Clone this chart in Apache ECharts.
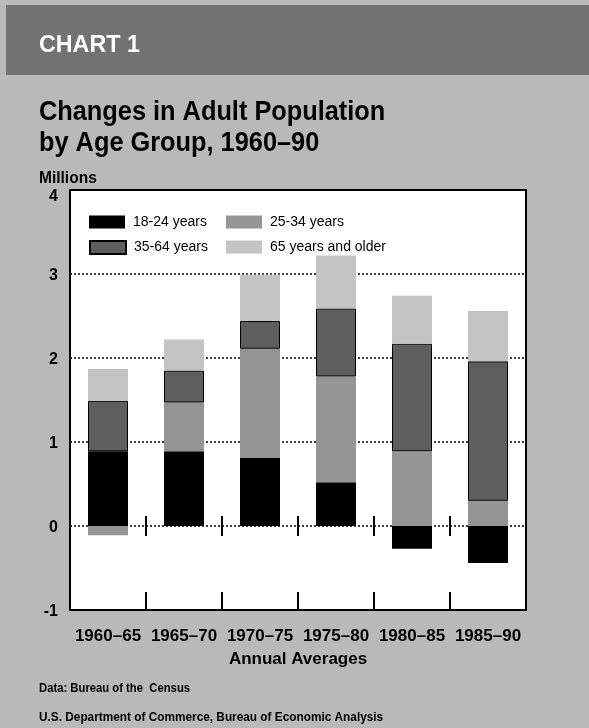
<!DOCTYPE html>
<html>
<head>
<meta charset="utf-8">
<script src="https://cdn.jsdelivr.net/npm/echarts@6/dist/echarts.min.js"></script>
<style>
html,body{margin:0;padding:0;background:#b9b9b9;}
#c{width:589px;height:728px;}
</style>
</head>
<body>
<div id="c"></div>
<script>
// ---- data ----
var categories = ['1960–65', '1965–70', '1970–75', '1975–80', '1980–85', '1985–90'];
var age18to24 = [0.89, 0.89, 0.81, 0.52, -0.27, -0.44];
var age25to34 = [-0.11, 0.58, 1.30, 1.26, 0.89, 0.30];
var age35to64 = [0.60, 0.38, 0.33, 0.81, 1.28, 1.66];
var age65plus = [0.38, 0.37, 0.55, 0.63, 0.57, 0.60];
var seriesNames = ['18-24 years', '25-34 years', '35-64 years', '65 years and older'];
var yTicks = [-1, 0, 1, 2, 3, 4];

var FONT = "'Liberation Sans', Arial, Helvetica, sans-serif";
var chart = echarts.init(document.getElementById('c'), null, {renderer: 'canvas'});

function legendAt(name, left, top) {
  return {
    data: [{name: name, icon: 'rect'}], left: left, top: top, orient: 'horizontal', padding: 0,
    itemWidth: 36, itemHeight: 13, itemGap: 0, selectedMode: false,
    textStyle: {fontFamily: FONT, fontSize: 14, color: '#000', padding: [0, 0, 0, 3]}
  };
}

function txt(x, y, text, size, weight, fill, sx) {
  return {
    type: 'text', x: x, y: y, scaleX: sx || 1, silent: true,
    style: {text: text, x: 0, y: 0, fontFamily: FONT, fontSize: size, fontWeight: weight,
            fill: fill, align: 'left', verticalAlign: 'middle'}
  };
}

var option = {
  animation: false,
  backgroundColor: '#b9b9b9',
  graphic: [
    {type: 'rect', shape: {x: 6, y: 5, width: 583, height: 70}, style: {fill: '#727272'}, silent: true, z: -1},
    txt(39, 45, 'CHART 1', 24, 'bold', '#fff', 0.97),
    txt(39, 112, 'Changes in Adult Population', 28, 'bold', '#000', 0.905),
    txt(39, 143, 'by Age Group, 1960–90', 28, 'bold', '#000', 0.905),
    txt(39, 179, 'Millions', 16, 'bold', '#000', 0.97),
    txt(39, 689, 'Data: Bureau of the  Census', 12, 'bold', '#000', 0.94),
    txt(39, 718, 'U.S. Department of Commerce, Bureau of Economic Analysis', 12, 'bold', '#000', 0.985)
  ],
  legend: [
    legendAt(seriesNames[0], 89, 215),
    legendAt(seriesNames[1], 226, 215),
    legendAt(seriesNames[2], 89, 240),
    legendAt(seriesNames[3], 226, 240)
  ],
  grid: {
    left: 70, right: 63, top: 190, bottom: 118,
    show: true, backgroundColor: '#ffffff', borderColor: '#000', borderWidth: 2
  },
  xAxis: [
    {
      type: 'category', data: categories, position: 'bottom',
      axisLine: {show: false, onZero: false},
      axisTick: {show: true, interval: 0, inside: true, length: 18, alignWithLabel: false, lineStyle: {color: '#000', width: 2}},
      axisLabel: {interval: 0, fontFamily: FONT, fontSize: 17, fontWeight: 'bold', color: '#000', margin: 18},
      name: 'Annual Averages', nameLocation: 'middle', nameGap: 41,
      nameTextStyle: {fontFamily: FONT, fontSize: 17, fontWeight: 'bold', color: '#000'}
    },
    {
      type: 'category', data: categories, position: 'bottom',
      axisLine: {show: false, onZero: true, onZeroAxisIndex: 0},
      axisTick: {show: true, interval: 0, inside: true, length: 10, alignWithLabel: false, lineStyle: {color: '#000', width: 2}},
      axisLabel: {show: false}
    },
    {
      type: 'category', data: categories, position: 'bottom',
      axisLine: {show: false, onZero: true, onZeroAxisIndex: 0},
      axisTick: {show: true, interval: 0, inside: false, length: 10, alignWithLabel: false, lineStyle: {color: '#000', width: 2}},
      axisLabel: {show: false}
    }
  ],
  yAxis: {
    type: 'value', min: yTicks[0], max: yTicks[yTicks.length - 1], interval: 1,
    axisLine: {show: false}, axisTick: {show: false},
    axisLabel: {
      fontFamily: FONT, fontSize: 16, fontWeight: 'bold', color: '#000', margin: 12,
      formatter: function (v) { return v === yTicks[yTicks.length - 1] ? '{top|' + v + '}' : '{n|' + v + '}'; },
      rich: {
        top: {fontFamily: FONT, fontSize: 16, fontWeight: 'bold', color: '#000', padding: [14, 0, 0, 0]},
        n: {fontFamily: FONT, fontSize: 16, fontWeight: 'bold', color: '#000', padding: [4, 0, 0, 0]}
      }
    },
    splitLine: {show: true, lineStyle: {color: '#000', type: [2, 2], width: 1.5}}
  },
  series: [
    {name: seriesNames[0], type: 'bar', stack: 'total', data: age18to24, barWidth: 40,
     itemStyle: {color: '#000000'}},
    {name: seriesNames[1], type: 'bar', stack: 'total', data: age25to34, barWidth: 40,
     itemStyle: {color: '#959595'}},
    {name: seriesNames[2], type: 'bar', stack: 'total', data: age35to64, barWidth: 40,
     itemStyle: {color: '#5e5e5e', borderColor: '#000', borderWidth: 1}},
    {name: seriesNames[3], type: 'bar', stack: 'total', data: age65plus, barWidth: 40,
     itemStyle: {color: '#c3c3c3'}}
  ]
};
chart.setOption(option);
</script>
</body>
</html>
